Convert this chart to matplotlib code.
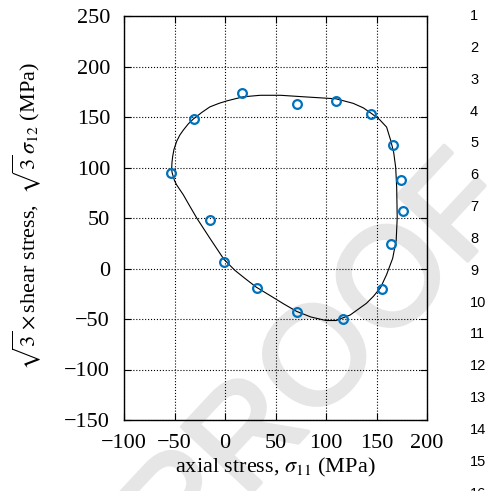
import matplotlib
matplotlib.use("Agg")
import matplotlib.pyplot as plt
import matplotlib.patheffects as pe

# measured data points (sigma11, sqrt3*sigma12) in MPa
pts_x = [-53.5, -31, 17, 71, 109.5, 145, 166, 174, 176, 164.5, 155, 117, 71, 31.5, -0.7, -15]
pts_y = [95, 148, 173.5, 162.5, 165.8, 152.7, 122.5, 87.6, 57, 24, -20.3, -49.7, -43.4, -19.6, 6.4, 48]

# yield curve
curve_x = [-52.8, -52.5, -51.8, -50.5, -47.8, -44.8, -41.3, -36.5, -31.4, -23, -15, -6, 2, 18,
           35, 55, 78, 110, 127, 137, 145, 153, 160, 164, 167, 169, 170, 170.5, 169.5, 166,
           160, 154, 147, 140, 124, 110, 100, 85, 71, 58, 45, 31, 20, 10, -1, -15, -28, -35,
           -41.3, -45, -48, -50, -51.2, -52.4, -52.8]
curve_y = [99, 105, 111, 118, 126, 132, 137, 143, 148, 154.5, 160, 163.5, 166, 170,
           171.5, 171.5, 170, 168, 163.5, 159, 153.5, 147.5, 140, 127, 115, 100, 80, 50, 28, 10,
           -6, -19, -27.5, -34.5, -46, -51.5, -51.5, -48, -42.5, -35, -27, -18.5, -10, -2, 9,
           30, 50, 62, 73, 78.5, 83, 87, 91, 95, 99]

xticks = [-100, -50, 0, 50, 100, 150, 200]
yticks = [-150, -100, -50, 0, 50, 100, 150, 200, 250]
line_numbers = [str(i) for i in range(1, 17)]

plt.rcParams['font.family'] = ['Liberation Serif', 'DejaVu Serif']
plt.rcParams['mathtext.fontset'] = 'stix'

W, H = 488, 491
fig = plt.figure(figsize=(W / 100, H / 100), dpi=100)
ax = fig.add_axes([124 / W, 1 - 420 / H, (427 - 124) / W, (420 - 16) / H])
ax.set_facecolor('none')
ax.set_zorder(1)

# watermark
wm = fig.text(323 / W, 1 - 363 / H, 'PROOF', fontsize=100, family='Liberation Sans',
              color='#e6e6e6', rotation=47, ha='center', va='center',
              rotation_mode='anchor', zorder=-5)
wm.set_path_effects([pe.withStroke(linewidth=3, foreground='#e6e6e6')])

ax.plot(curve_x, curve_y, color='black', lw=0.8, zorder=3)
ax.plot(pts_x, pts_y, linestyle='none', marker='o', markersize=6.3, markeredgewidth=1.6,
        markerfacecolor='none', markeredgecolor='#0072BD', zorder=4)

ax.set_xlim(-100, 200)
ax.set_ylim(-150, 250)
ax.set_xticks(xticks)
ax.set_yticks(yticks)
ax.set_xticklabels(['\u2212' + str(-t) if t < 0 else str(t) for t in xticks])
ax.set_yticklabels(['\u2212' + str(-t) if t < 0 else str(t) for t in yticks])
ax.grid(True, linestyle=':', color='black', lw=0.8)
ax.set_axisbelow(True)
ax.tick_params(direction='in', top=True, right=True, length=5, width=0.8,
               labelsize=16, pad=10)
for s in ax.spines.values():
    s.set_linewidth(1.0)

ax.set_xlabel(r'axial stress, $\sigma_{11}$ (MPa)', fontsize=16)
ax.set_ylabel(r'$\sqrt{3}\times$shear stress,  $\sqrt{3}\,\sigma_{12}$ (MPa)', fontsize=16)
ax.xaxis.set_label_coords(0.5, -0.088)
ax.yaxis.set_label_coords(-0.268, 0.505)

# line numbers on the right margin
for i, lab in enumerate(line_numbers):
    ypx = 16 + 31.85 * i
    fig.text(470 / W, 1 - ypx / H, lab, fontsize=10.5, family='Liberation Sans',
             ha='left', va='center', color='black')

fig.savefig('out.png', dpi=100)
